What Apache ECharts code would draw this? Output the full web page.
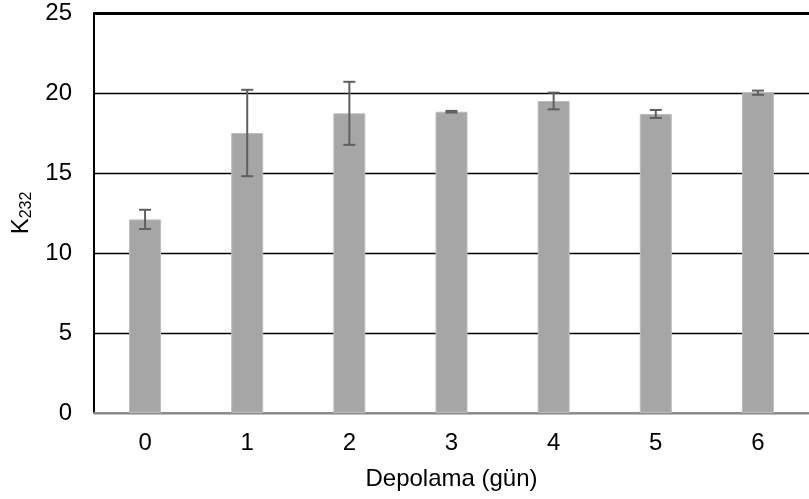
<!DOCTYPE html>
<html>
<head>
<meta charset="utf-8">
<script src="https://cdn.jsdelivr.net/npm/echarts@6/dist/echarts.min.js"></script>
<style>
  html, body { margin: 0; padding: 0; background: #fff; }
  #chart { width: 809px; height: 499px; }
</style>
</head>
<body>
<div id="chart"></div>
<script>
// 数据
var days = ['0', '1', '2', '3', '4', '5', '6'];
var k232 = [12.1, 17.5, 18.73, 18.83, 19.5, 18.69, 20.02];
var k232Err = [0.6, 2.7, 1.97, 0.05, 0.52, 0.25, 0.13];

var myChart = echarts.init(document.getElementById('chart'));

var errData = days.map(function (d, i) {
    return [i, k232[i] - k232Err[i], k232[i] + k232Err[i]];
});

var option = {
    animation: false,
    textStyle: { fontFamily: 'Liberation Sans, Arial, sans-serif' },
    grid: { left: 94, top: 13, width: 724, height: 400 },
    xAxis: {
        type: 'category',
        data: days,
        name: 'Depolama (gün)',
        nameLocation: 'middle',
        nameGap: 54,
        nameTextStyle: { fontSize: 24, color: '#000' },
        axisLine: { lineStyle: { color: '#8c8c8c', width: 2 } },
        axisTick: { show: false },
        axisLabel: { fontSize: 24, color: '#000', margin: 18 }
    },
    yAxis: {
        type: 'value',
        min: 0,
        max: 25,
        interval: 5,
        name: '{k|K}{s|232}',
        nameLocation: 'middle',
        nameGap: 57,
        nameTextStyle: {
            rich: {
                k: { fontSize: 24, color: '#000' },
                s: { fontSize: 16, color: '#000', verticalAlign: 'bottom', padding: [10, 0, 0, 0] }
            }
        },
        axisLine: { show: true, lineStyle: { color: '#000', width: 2 } },
        axisTick: { show: false },
        axisLabel: { fontSize: 24, color: '#000', margin: 22 },
        splitLine: { lineStyle: { color: '#000', width: 1.3 } }
    },
    series: [
        {
            name: 'K232',
            type: 'bar',
            data: k232,
            barWidth: 32,
            itemStyle: { color: '#a6a6a6', borderColor: '#bdbdbd', borderWidth: 1 },
            markLine: {
                silent: true,
                symbol: 'none',
                label: { show: false },
                lineStyle: { color: '#000', width: 3, type: 'solid' },
                data: [{ yAxis: 25 }]
            }
        },
        {
            type: 'custom',
            data: errData,
            z: 10,
            renderItem: function (params, api) {
                var x = api.value(0);
                var lo = api.coord([x, api.value(1)]);
                var hi = api.coord([x, api.value(2)]);
                var w = 6;
                var st = { stroke: '#5f5f5f', lineWidth: 2 };
                return {
                    type: 'group',
                    children: [
                        { type: 'line', shape: { x1: hi[0], y1: hi[1], x2: lo[0], y2: lo[1] }, style: st },
                        { type: 'line', shape: { x1: hi[0] - w, y1: hi[1], x2: hi[0] + w, y2: hi[1] }, style: st },
                        { type: 'line', shape: { x1: lo[0] - w, y1: lo[1], x2: lo[0] + w, y2: lo[1] }, style: st }
                    ]
                };
            }
        }
    ]
};

myChart.setOption(option);
</script>
</body>
</html>
